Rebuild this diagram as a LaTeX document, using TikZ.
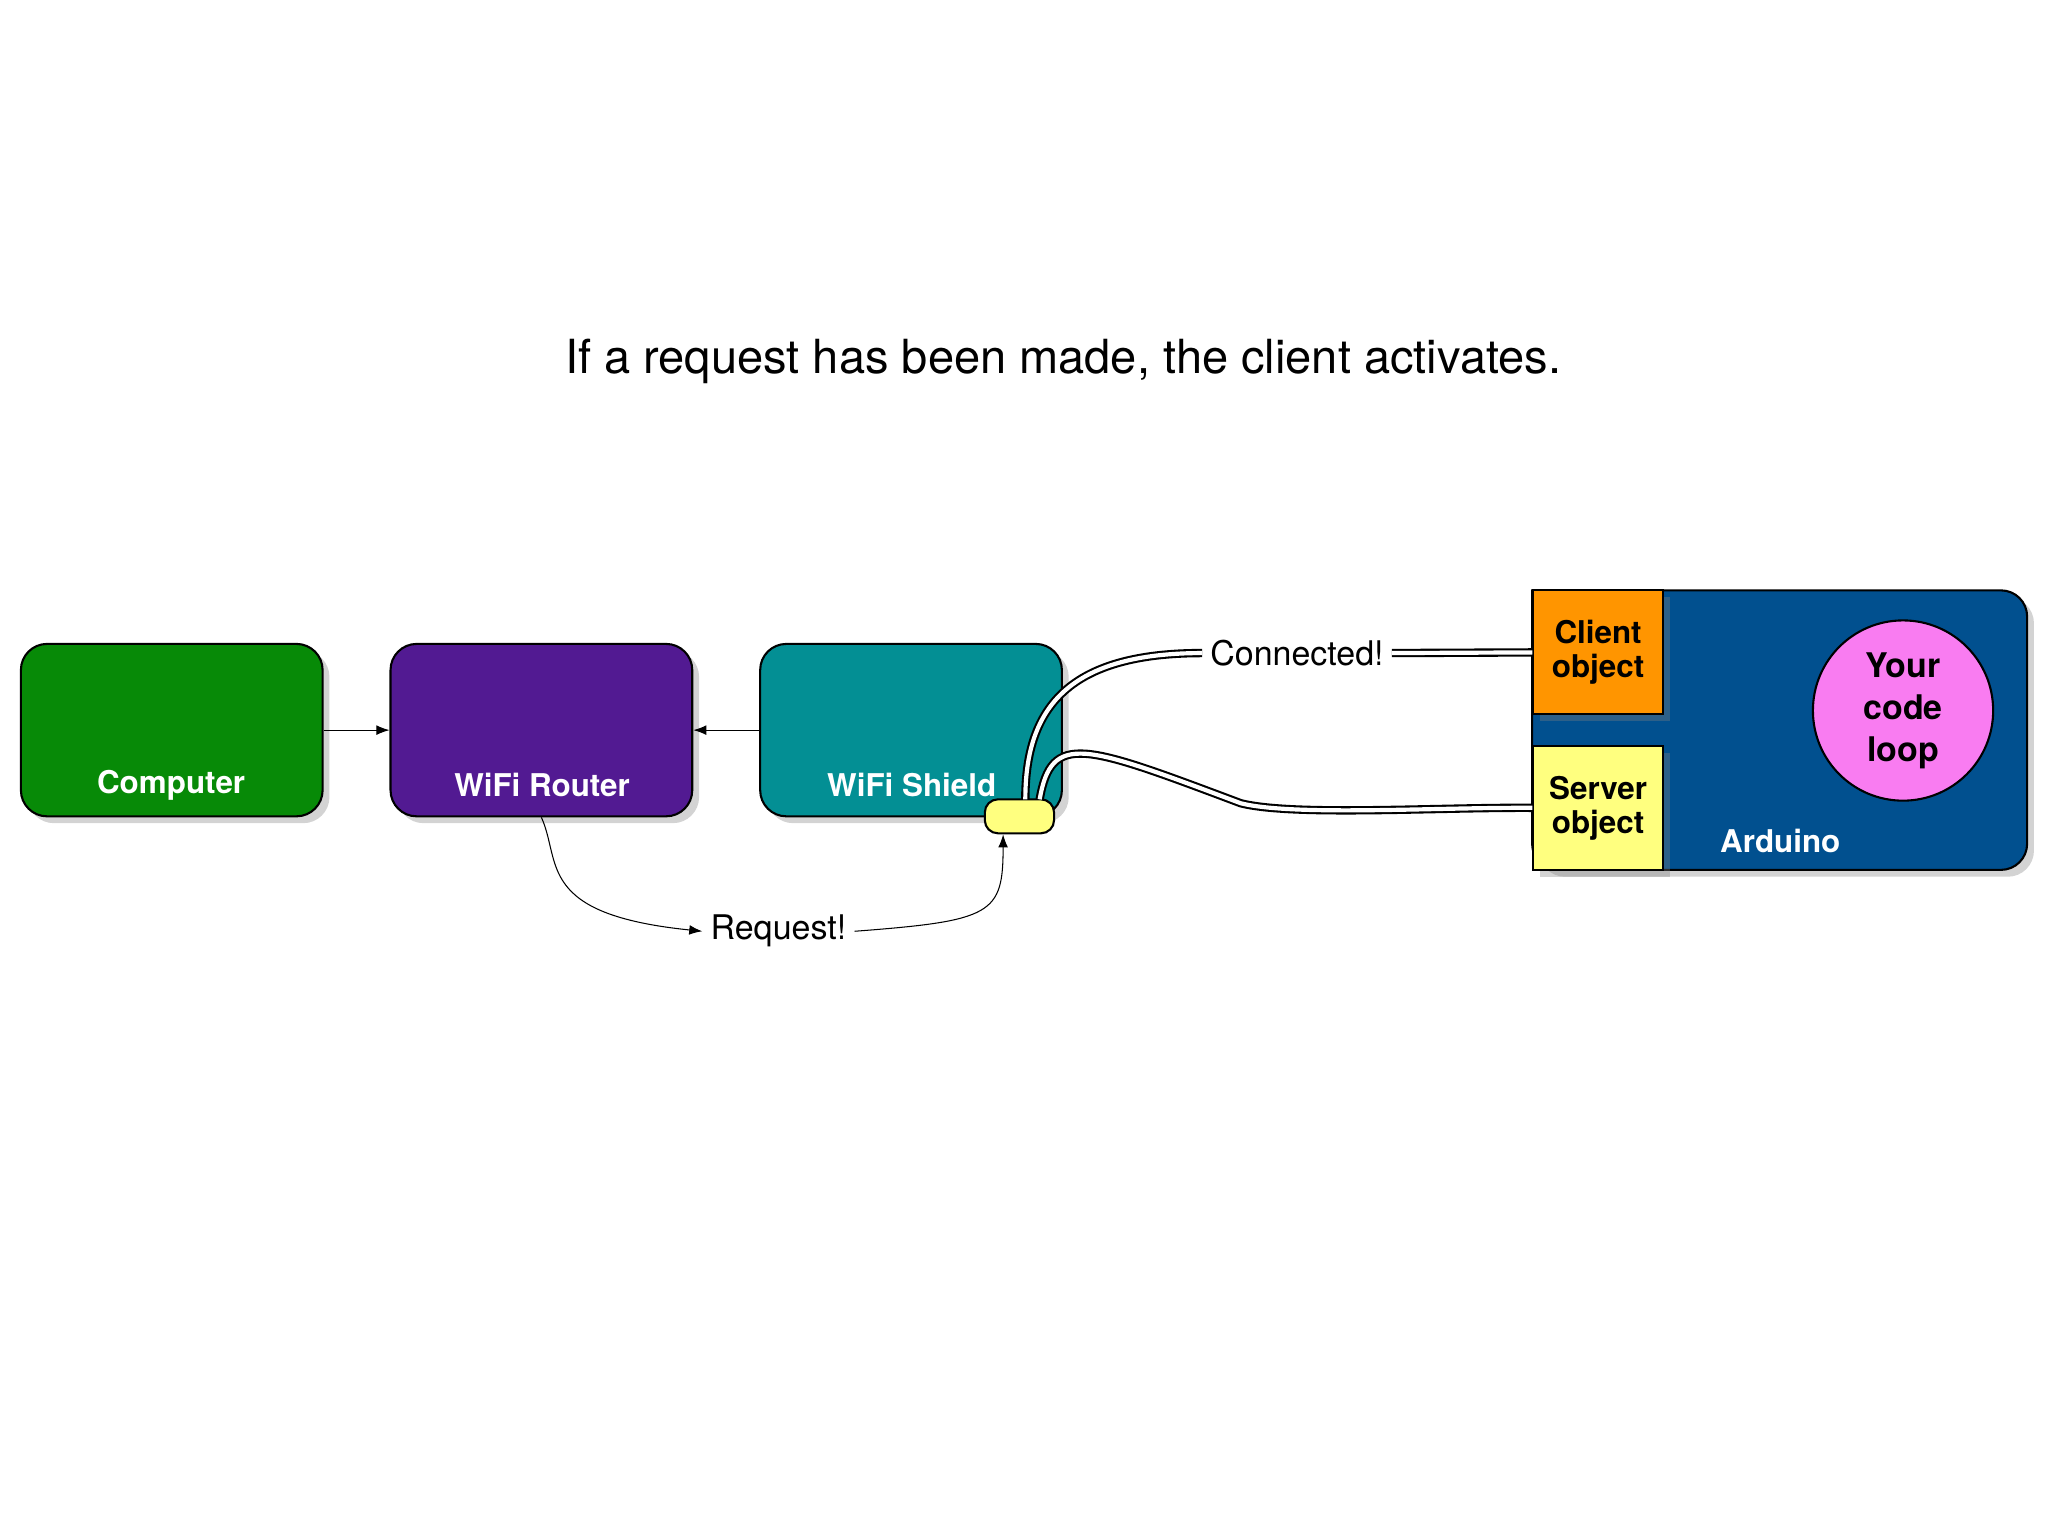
\documentclass[tikz,border=0pt]{standalone}
\usepackage{fontspec}
\setmainfont{TeX Gyre Heros}
\usetikzlibrary{arrows.meta,positioning,shadows}
\definecolor{compgreen}{HTML}{078A07}
\definecolor{routerpurple}{HTML}{521A92}
\definecolor{shieldteal}{HTML}{038F94}
\definecolor{ardblue}{HTML}{01508F}
\definecolor{clientorange}{HTML}{FF9500}
\definecolor{serveryellow}{HTML}{FFFF7F}
\definecolor{looppink}{HTML}{F97CF1}
\begin{document}
\begin{tikzpicture}[x=0.5pt,y=-0.5pt]
\tikzstyle{device} = [draw, thick, rounded corners=10pt, minimum width=115.5pt, minimum height=66pt, drop shadow={opacity=0.35}]
\tikzset{devlabel/.style={text=white, font=\fontsize{12}{14}\selectfont\bfseries}}
\tikzset{obj/.style={draw, thick, minimum width=49.5pt, minimum height=47.5pt, align=center, font=\fontsize{12}{13}\selectfont\bfseries, drop shadow={opacity=0.35}}}
\tikzset{wire/.style={double, double distance=1.6pt, thick}}
\useasboundingbox (0,0) rectangle (1568,1176);
\node[font=\fontsize{18}{20}\selectfont] (title) at (814,277) {If a request has been made, the client activates.};
% the three boxes
\node[device, fill=compgreen] (computer) at (131.5,559) {};
\node[device, fill=routerpurple] (router) at (414.5,559) {};
\node[device, fill=shieldteal] (shield) at (697.5,559) {};
\node[devlabel] at (131,601) {Computer};
\node[devlabel] at (415,601) {WiFi Router};
\node[devlabel] at (698,601) {WiFi Shield};
\draw[-{Latex[length=5pt]}] (computer) -- (router);
\draw[-{Latex[length=5pt]}] (shield) -- (router);
% arduino
\draw[thick, fill=ardblue, drop shadow={opacity=0.35}, rounded corners=10pt] (1173,452) -- (1552,452) -- (1552,666) -- (1173,666) [sharp corners] -- cycle;
\node[devlabel] (arduino) at (1363,644) {Arduino};
\node[obj, fill=clientorange] (client) at (1223.5,499.5) {Client\\object};
\node[obj, fill=serveryellow] (server) at (1223.5,618.5) {Server\\object};
\node[draw, thick, circle, fill=looppink, minimum size=69pt, align=center, font=\fontsize{13}{16}\selectfont\bfseries] (loop) at (1457,544) {Your\\code\\loop};
% socket on the shield
\node[draw, thick, fill=serveryellow, rounded corners=5pt, minimum width=26.5pt, minimum height=13pt] (socket) at (780.5,625) {};
% request
\node[font=\fontsize{13}{15}\selectfont, fill=white, inner sep=3pt] (request) at (596,713) {Request!};
\draw[-{Latex[length=5pt]}] (router.south) .. controls (430,660) and (410,700) .. (request.west);
\draw[-{Latex[length=5pt]}] (request.east) .. controls (760,705) and (768,700) .. (socket.south -| 768,0);
% connections
\node[font=\fontsize{13}{15}\selectfont, fill=white, inner sep=3pt] (connected) at (993,500) {Connected!};
\draw[wire] (785,612) .. controls (785,540) and (820,500) .. (connected.west);
\draw[wire] (connected.east) -- (client.west);
\draw[wire] (796,612) .. controls (805,560) and (830,570) .. (950,615) .. controls (990,625) and (1100,618) .. (server.west);
\end{tikzpicture}
\end{document}
